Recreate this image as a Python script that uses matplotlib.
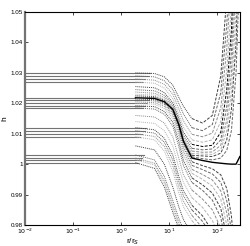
import numpy as np
from matplotlib import pyplot as plt

plt.rcParams['font.family'] = ['Liberation Sans', 'DejaVu Sans']

# r/r_S sample points shared by the curves
r_grid = [0.01, 2, 5, 8, 12, 16, 20, 30, 50, 80, 120, 160, 200, 250, 300]

# separatrix (black)
h_black = [1.0218, 1.0218, 1.0216, 1.0205, 1.0180, 1.0130, 1.0075, 1.0020, 1.0012,
           1.0006, 1.0003, 1.0001, 1.0000, 1.0000, 1.0025]

# curves above the separatrix (U shaped, leave through the top)
h_upper = [
    [1.0300, 1.0300, 1.0298, 1.0287, 1.0260, 1.0220, 1.0190, 1.0150, 1.0135, 1.0160, 1.0290, 1.0550, 1.080, 1.10, 1.10],
    [1.0290, 1.0290, 1.0287, 1.0274, 1.0245, 1.0200, 1.0165, 1.0120, 1.0110, 1.0130, 1.0235, 1.0460, 1.070, 1.10, 1.10],
    [1.0280, 1.0280, 1.0276, 1.0262, 1.0230, 1.0182, 1.0142, 1.0098, 1.0090, 1.0102, 1.0185, 1.0380, 1.062, 1.10, 1.10],
    [1.0270, 1.0270, 1.0266, 1.0250, 1.0215, 1.0165, 1.0122, 1.0080, 1.0072, 1.0080, 1.0140, 1.0310, 1.052, 1.09, 1.10],
    [1.0255, 1.0255, 1.0251, 1.0235, 1.0202, 1.0152, 1.0105, 1.0065, 1.0058, 1.0062, 1.0105, 1.0245, 1.044, 1.08, 1.10],
    [1.0245, 1.0245, 1.0241, 1.0226, 1.0195, 1.0143, 1.0095, 1.0052, 1.0047, 1.0050, 1.0080, 1.0190, 1.037, 1.07, 1.10],
    [1.0237, 1.0237, 1.0233, 1.0219, 1.0190, 1.0138, 1.0087, 1.0043, 1.0039, 1.0040, 1.0062, 1.0145, 1.030, 1.06, 1.10],
    [1.0230, 1.0230, 1.0227, 1.0214, 1.0186, 1.0135, 1.0082, 1.0035, 1.0033, 1.0032, 1.0048, 1.0110, 1.024, 1.05, 1.09],
    [1.0225, 1.0225, 1.0222, 1.0210, 1.0183, 1.0133, 1.0079, 1.0029, 1.0027, 1.0025, 1.0036, 1.0080, 1.018, 1.04, 1.08],
    [1.0221, 1.0221, 1.0219, 1.0207, 1.0181, 1.0131, 1.0077, 1.0024, 1.0018, 1.0014, 1.0020, 1.0045, 1.011, 1.03, 1.065],
]
# end of the solid flat part (0 = no flat part drawn)
r_solid_upper = [4.0, 3.6, 3.2, 2.9, 0, 0, 0, 0, 0, 0]

# curves below the separatrix (leave through the bottom)
h_lower = [
    [1.0214, 1.0214, 1.0212, 1.0201, 1.0175, 1.0124, 1.0068, 1.0008, 0.9995, 0.9985, 0.9965, 0.9920, 0.983, 0.965, 0.95],
    [1.0210, 1.0210, 1.0208, 1.0196, 1.0168, 1.0114, 1.0056, 0.9996, 0.9982, 0.9968, 0.9940, 0.9880, 0.978, 0.960, 0.95],
    [1.0205, 1.0205, 1.0202, 1.0190, 1.0160, 1.0103, 1.0043, 0.9983, 0.9966, 0.9948, 0.9912, 0.9840, 0.973, 0.960, 0.95],
    [1.0200, 1.0200, 1.0197, 1.0183, 1.0151, 1.0091, 1.0030, 0.9970, 0.9950, 0.9928, 0.9885, 0.9800, 0.968, 0.950, 0.94],
    [1.0192, 1.0192, 1.0189, 1.0173, 1.0138, 1.0075, 1.0012, 0.9955, 0.9932, 0.9905, 0.9855, 0.9760, 0.963, 0.950, 0.94],
    [1.0185, 1.0185, 1.0181, 1.0164, 1.0125, 1.0058, 0.9995, 0.9940, 0.9914, 0.9882, 0.9825, 0.9720, 0.960, 0.950, 0.94],
    [1.0160, 1.0160, 1.0155, 1.0135, 1.0090, 1.0020, 0.9965, 0.9915, 0.9885, 0.9850, 0.9790, 0.9700, 0.960, 0.950, 0.94],
    [1.0140, 1.0140, 1.0134, 1.0110, 1.0060, 0.9990, 0.9940, 0.9890, 0.9858, 0.9815, 0.9750, 0.9650, 0.950, 0.940, 0.93],
    [1.0120, 1.0120, 1.0113, 1.0085, 1.0030, 0.9960, 0.9912, 0.9865, 0.9830, 0.9780, 0.9700, 0.9600, 0.950, 0.940, 0.93],
    [1.0110, 1.0110, 1.0102, 1.0072, 1.0013, 0.9943, 0.9896, 0.9850, 0.9812, 0.9760, 0.9700, 0.9600, 0.950, 0.940, 0.93],
    [1.0100, 1.0100, 1.0091, 1.0058, 0.9995, 0.9925, 0.9878, 0.9832, 0.9790, 0.9730, 0.9650, 0.9550, 0.945, 0.935, 0.93],
    [1.0090, 1.0090, 1.0080, 1.0043, 0.9976, 0.9906, 0.9860, 0.9815, 0.9770, 0.9700, 0.9600, 0.9500, 0.940, 0.930, 0.92],
    [1.0060, 1.0060, 1.0047, 1.0000, 0.9925, 0.9860, 0.9818, 0.9770, 0.9700, 0.9600, 0.9500, 0.9400, 0.930, 0.920, 0.91],
    [1.0030, 1.0030, 1.0014, 0.9960, 0.9880, 0.9822, 0.9785, 0.9730, 0.9650, 0.9550, 0.9450, 0.9350, 0.925, 0.915, 0.905],
    [1.0020, 1.0020, 1.0003, 0.9945, 0.9864, 0.9808, 0.9772, 0.9720, 0.9650, 0.9550, 0.9450, 0.9350, 0.925, 0.915, 0.905],
    [1.0015, 1.0015, 0.9997, 0.9938, 0.9856, 0.9800, 0.9765, 0.9710, 0.9650, 0.9550, 0.9450, 0.9350, 0.925, 0.915, 0.905],
    [1.0005, 1.0005, 0.9986, 0.9925, 0.9842, 0.9788, 0.9753, 0.9700, 0.9650, 0.9550, 0.9450, 0.9350, 0.925, 0.915, 0.905],
]
r_solid_lower = [0, 3.8, 0, 3.5, 3.2, 2.9, 0, 0, 3.4, 3.1, 2.8, 2.5, 0, 3.0, 2.8, 2.6, 2.3]

xticks = [0.01, 0.1, 1, 10, 100]
xticklabels = ['$10^{-2}$', '$10^{-1}$', '$10^{0}$', '$10^{1}$', '$10^{2}$']
yticks = [0.98, 0.99, 1.0, 1.01, 1.02, 1.03, 1.04, 1.05]
yticklabels = ['0.98', '0.99', '1', '1.01', '1.02', '1.03', '1.04', '1.05']

fig = plt.figure(figsize=(2.51, 2.46), dpi=100)
ax = fig.add_axes([25 / 251, 21 / 246, 215 / 251, 213 / 246])

r = np.array(r_grid)
split = 7  # from r = 30 on the curves are dashed

grays = ['0.25', '0.4', '0.55', '0.7']


def draw(h, r_solid, k, dash_color=None):
    h = np.array(h)
    g = grays[k % len(grays)]
    if r_solid > 0:
        ax.plot([0.01, r_solid], [h[0], h[0]], color='0.45', lw=0.8, ls='-')
    ax.plot(r[1:split + 1], h[1:split + 1], color=g, lw=0.7, ls=(0, (1, 1)))
    ax.plot(r[split:], h[split:], color=dash_color or g, lw=0.7, ls=(0, (3, 1.5)))


for k, h in enumerate(h_upper):
    draw(h, r_solid_upper[k], k, 'k' if k == 4 else None)
for k, h in enumerate(h_lower):
    draw(h, r_solid_lower[k], k)

# separatrix: gray flat start, black from r ~ 2 on
ax.plot([0.01, 2], [h_black[0], h_black[1]], color='0.45', lw=0.8)
ax.plot(r_grid[1:], h_black[1:], color='k', lw=1.0)

ax.set_xscale('log')
ax.set_xlim(0.01, 10 ** 2.48)
ax.set_ylim(0.98, 1.05)
ax.set_xticks(xticks)
ax.set_xticklabels(xticklabels)
ax.set_yticks(yticks)
ax.set_yticklabels(yticklabels)
ax.minorticks_off()
ax.tick_params(direction='in', length=2, width=0.5, labelsize=4.5, pad=1.5,
               top=True, right=True)
ax.set_xlabel('r/r$_S$', fontsize=6, labelpad=0)
ax.set_ylabel('h', fontsize=6, labelpad=2)
for s in ['top', 'bottom', 'right']:
    ax.spines[s].set_linewidth(0.8)
ax.spines['left'].set_linewidth(1.6)
ax.spines['left'].set_color('0.45')

fig.savefig('out.png', dpi=100)
